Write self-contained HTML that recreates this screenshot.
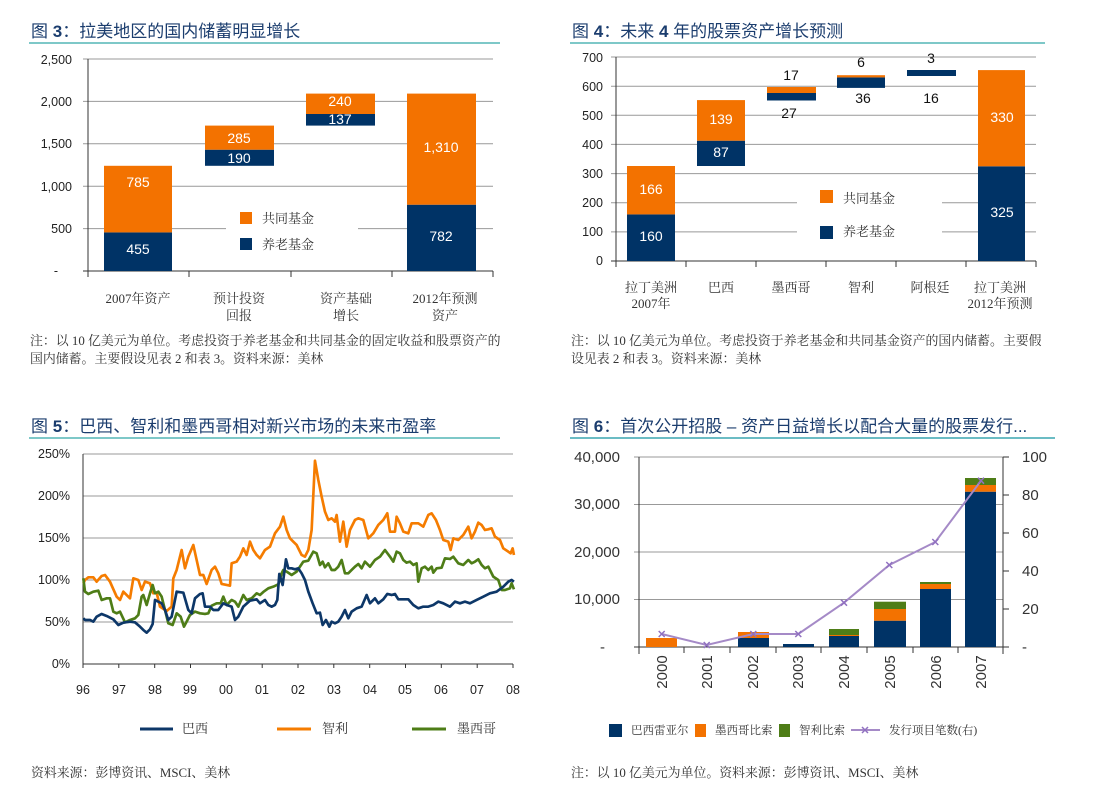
<!DOCTYPE html>
<html><head><meta charset="utf-8"><style>
html,body{margin:0;padding:0;background:#fff;}
svg text{font-family:"Liberation Sans","Noto Sans CJK SC",sans-serif;}
.t{font-size:17px;fill:#1b3d6e;}
.ax{font-size:12.5px;fill:#222;}
svg text.cat{font-family:"Liberation Serif","Noto Serif CJK SC",serif;font-size:13px;fill:#333;}
svg text.note{font-family:"Liberation Serif","Noto Serif CJK SC",serif;font-size:12.9px;fill:#333;}
svg text.lg6{font-family:"Liberation Serif","Noto Serif CJK SC",serif;font-size:11.5px;fill:#333;}
.wl{font-size:14px;fill:#fff;}
.bl{font-size:14px;fill:#111;}
</style></head><body>
<svg width="1101" height="796" viewBox="0 0 1101 796" xmlns="http://www.w3.org/2000/svg">
<!-- Panel 3 -->
<text x="31" y="37" class="t">图 <tspan font-weight="bold">3</tspan>：拉美地区的国内储蓄明显增长</text>
<line x1="29" y1="43" x2="500" y2="43" stroke="#7ec8c8" stroke-width="2"/>
<g stroke="#999" stroke-width="1">
<line x1="83" y1="59" x2="493" y2="59"/><line x1="83" y1="101.4" x2="493" y2="101.4"/>
<line x1="83" y1="143.8" x2="493" y2="143.8"/><line x1="83" y1="186.2" x2="493" y2="186.2"/>
<line x1="83" y1="228.6" x2="493" y2="228.6"/>
</g>
<line x1="88" y1="59" x2="88" y2="277" stroke="#333"/>
<line x1="83" y1="271" x2="493" y2="271" stroke="#333"/>
<g stroke="#333"><line x1="189" y1="271" x2="189" y2="277"/><line x1="291" y1="271" x2="291" y2="277"/><line x1="392" y1="271" x2="392" y2="277"/><line x1="493" y1="271" x2="493" y2="277"/></g>
<g class="ax" text-anchor="end">
<text x="72" y="64">2,500</text><text x="72" y="106">2,000</text><text x="72" y="148">1,500</text><text x="72" y="191">1,000</text><text x="72" y="233">500</text><text x="58" y="275">-</text>
</g>
<rect x="104" y="232.4" width="68" height="38.6" fill="#003366"/>
<rect x="104" y="165.8" width="68" height="66.6" fill="#f37200"/>
<rect x="205" y="149.7" width="69" height="16.1" fill="#003366"/>
<rect x="205" y="125.6" width="69" height="24.1" fill="#f37200"/>
<rect x="306" y="114" width="69" height="11.6" fill="#003366"/>
<rect x="306" y="93.6" width="69" height="20.4" fill="#f37200"/>
<rect x="407" y="204.7" width="69" height="66.3" fill="#003366"/>
<rect x="407" y="93.6" width="69" height="111.1" fill="#f37200"/>
<g class="wl" text-anchor="middle">
<text x="138" y="187">785</text><text x="138" y="254">455</text>
<text x="239" y="143">285</text><text x="239" y="163">190</text>
<text x="340" y="106">240</text><text x="340" y="124">137</text>
<text x="441" y="152">1,310</text><text x="441" y="241">782</text>
</g>
<rect x="226" y="205" width="132" height="50" fill="#fff"/>
<rect x="240" y="212" width="12" height="12" fill="#f37200"/>
<rect x="240" y="238" width="12" height="12" fill="#003366"/>
<text x="262" y="223" class="cat">共同基金</text><text x="262" y="249" class="cat">养老基金</text>
<g text-anchor="middle">
<text x="138" y="303" class="cat">2007年资产</text>
<text x="239" y="303" class="cat">预计投资</text><text x="239" y="320" class="cat">回报</text>
<text x="346" y="303" class="cat">资产基础</text><text x="346" y="320" class="cat">增长</text>
<text x="445" y="303" class="cat">2012年预测</text><text x="445" y="320" class="cat">资产</text>
</g>
<text x="30" y="345" class="note">注：以 10 亿美元为单位。考虑投资于养老基金和共同基金的固定收益和股票资产的</text>
<text x="30" y="363" class="note">国内储蓄。主要假设见表 2 和表 3。资料来源：美林</text>

<!-- Panel 4 -->
<text x="572" y="37" class="t">图 <tspan font-weight="bold">4</tspan>：未来 <tspan font-weight="bold">4</tspan> 年的股票资产增长预测</text>
<line x1="570" y1="43" x2="1045" y2="43" stroke="#7ec8c8" stroke-width="2"/>
<g stroke="#999">
<line x1="611" y1="57" x2="1036" y2="57"/><line x1="611" y1="86.2" x2="1036" y2="86.2"/><line x1="611" y1="115.3" x2="1036" y2="115.3"/>
<line x1="611" y1="144.4" x2="1036" y2="144.4"/><line x1="611" y1="173.6" x2="1036" y2="173.6"/><line x1="611" y1="202.7" x2="1036" y2="202.7"/><line x1="611" y1="231.9" x2="1036" y2="231.9"/>
</g>
<line x1="616" y1="57" x2="616" y2="267" stroke="#333"/>
<line x1="611" y1="261" x2="1036" y2="261" stroke="#333"/>
<g stroke="#333"><line x1="686" y1="261" x2="686" y2="267"/><line x1="756" y1="261" x2="756" y2="267"/><line x1="826" y1="261" x2="826" y2="267"/><line x1="896" y1="261" x2="896" y2="267"/><line x1="966" y1="261" x2="966" y2="267"/><line x1="1036" y1="261" x2="1036" y2="267"/></g>
<g class="ax" text-anchor="end">
<text x="603" y="62">700</text><text x="603" y="91">600</text><text x="603" y="120">500</text><text x="603" y="149">400</text><text x="603" y="178">300</text><text x="603" y="207">200</text><text x="603" y="236">100</text><text x="603" y="265">0</text>
</g>
<rect x="627" y="214.4" width="48" height="46.6" fill="#003366"/>
<rect x="627" y="166" width="48" height="48.4" fill="#f37200"/>
<rect x="697" y="140.7" width="48" height="25.3" fill="#003366"/>
<rect x="697" y="100.1" width="48" height="40.6" fill="#f37200"/>
<rect x="767" y="93" width="49" height="7.5" fill="#003366"/>
<rect x="767" y="87" width="49" height="6" fill="#f37200"/>
<rect x="837" y="77.4" width="48" height="10.5" fill="#003366"/>
<rect x="837" y="75.2" width="48" height="2.2" fill="#f37200"/>
<rect x="907" y="70" width="49" height="6" fill="#003366"/>
<rect x="978" y="166.3" width="47" height="94.7" fill="#003366"/>
<rect x="978" y="70.1" width="47" height="96.2" fill="#f37200"/>
<g class="wl" text-anchor="middle">
<text x="651" y="194">166</text><text x="651" y="241">160</text>
<text x="721" y="124">139</text><text x="721" y="157">87</text>
<text x="1002" y="122">330</text><text x="1002" y="217">325</text>
</g>
<g class="bl" text-anchor="middle">
<text x="791" y="80">17</text><text x="789" y="118">27</text>
<text x="861" y="67">6</text><text x="863" y="103">36</text>
<text x="931" y="63">3</text><text x="931" y="103">16</text>
</g>
<rect x="797" y="185" width="145" height="60" fill="#fff"/>
<rect x="820" y="190" width="13" height="13" fill="#f37200"/>
<rect x="820" y="226" width="13" height="13" fill="#003366"/>
<text x="843" y="203" class="cat">共同基金</text><text x="843" y="236" class="cat">养老基金</text>
<g text-anchor="middle">
<text x="651" y="292" class="cat">拉丁美洲</text><text x="651" y="308" class="cat">2007年</text>
<text x="721" y="292" class="cat">巴西</text><text x="791" y="292" class="cat">墨西哥</text><text x="861" y="292" class="cat">智利</text><text x="930" y="292" class="cat">阿根廷</text>
<text x="1000" y="292" class="cat">拉丁美洲</text><text x="1000" y="308" class="cat">2012年预测</text>
</g>
<text x="571" y="345" class="note">注：以 10 亿美元为单位。考虑投资于养老基金和共同基金资产的国内储蓄。主要假</text>
<text x="571" y="363" class="note">设见表 2 和表 3。资料来源：美林</text>

<!-- Panel 5 -->
<text x="31" y="432" class="t">图 <tspan font-weight="bold">5</tspan>：巴西、智利和墨西哥相对新兴市场的未来市盈率</text>
<line x1="29" y1="438" x2="500" y2="438" stroke="#7ec8c8" stroke-width="2"/>
<g stroke="#999">
<line x1="83" y1="454" x2="513" y2="454"/><line x1="83" y1="496" x2="513" y2="496"/><line x1="83" y1="538" x2="513" y2="538"/><line x1="83" y1="580" x2="513" y2="580"/><line x1="83" y1="622" x2="513" y2="622"/>
</g>
<line x1="83" y1="454" x2="83" y2="668" stroke="#333"/>
<line x1="83" y1="664" x2="513" y2="664" stroke="#333"/>
<g stroke="#333">
<line x1="118.8" y1="664" x2="118.8" y2="668"/><line x1="154.7" y1="664" x2="154.7" y2="668"/><line x1="190.5" y1="664" x2="190.5" y2="668"/><line x1="226.3" y1="664" x2="226.3" y2="668"/><line x1="262.2" y1="664" x2="262.2" y2="668"/><line x1="298" y1="664" x2="298" y2="668"/><line x1="333.8" y1="664" x2="333.8" y2="668"/><line x1="369.7" y1="664" x2="369.7" y2="668"/><line x1="405.5" y1="664" x2="405.5" y2="668"/><line x1="441.3" y1="664" x2="441.3" y2="668"/><line x1="477.2" y1="664" x2="477.2" y2="668"/><line x1="513" y1="664" x2="513" y2="668"/>
</g>
<g class="ax" text-anchor="end">
<text x="70" y="458">250%</text><text x="70" y="500">200%</text><text x="70" y="542">150%</text><text x="70" y="584">100%</text><text x="70" y="626">50%</text><text x="70" y="668">0%</text>
</g>
<g class="ax" text-anchor="middle">
<text x="83" y="694">96</text><text x="119" y="694">97</text><text x="155" y="694">98</text><text x="190" y="694">99</text><text x="226" y="694">00</text><text x="262" y="694">01</text><text x="298" y="694">02</text><text x="334" y="694">03</text><text x="370" y="694">04</text><text x="405" y="694">05</text><text x="441" y="694">06</text><text x="477" y="694">07</text><text x="513" y="694">08</text>
</g>
<g transform="translate(30,440) scale(0.3333)" fill="none" stroke-width="8" stroke-linejoin="round">
<polyline stroke="#f57c00" points="160,430 165,420 175,412 190,412 200,425 215,408 225,405 240,425 260,470 270,480 280,455 295,470 300,475 310,415 325,420 335,450 345,425 360,430 370,460 380,458 390,500 410,513 425,500 430,415 440,390 455,330 465,385 475,350 490,315 500,360 510,405 520,405 530,432 545,390 555,380 565,400 575,432 590,435 600,437 605,370 620,365 630,350 640,325 650,345 660,305 670,330 680,345 690,355 705,330 720,320 735,280 750,260 760,230 770,270 780,295 790,305 800,315 815,345 825,350 835,330 845,270 855,62 865,120 875,170 885,215 895,240 905,235 915,245 920,225 930,305 940,245 950,320 960,270 975,240 985,235 1000,240 1015,295 1030,280 1045,255 1060,240 1072,220 1080,275 1095,275 1100,230 1110,250 1120,275 1135,280 1145,250 1165,250 1180,260 1195,225 1205,220 1218,240 1230,270 1240,300 1255,305 1262,330 1270,295 1285,300 1300,285 1315,260 1325,295 1335,275 1345,248 1355,255 1365,270 1375,268 1385,265 1395,290 1410,300 1420,325 1435,335 1442,340 1448,325 1452,345"/>
<polyline stroke="#4e7d17" points="160,415 165,455 175,462 190,455 205,452 215,480 230,475 240,475 250,515 260,520 270,515 285,547 300,540 315,535 325,525 335,470 340,465 350,495 360,460 368,435 375,460 385,455 395,470 405,510 415,550 428,555 440,520 452,530 462,560 470,545 480,525 495,515 510,520 525,522 535,520 545,497 560,490 572,490 580,470 590,495 605,480 615,485 625,500 640,465 650,480 665,475 680,460 690,465 700,456 715,445 730,440 745,433 755,400 760,390 770,395 785,405 800,395 810,380 820,365 835,362 850,335 860,340 870,375 878,365 885,382 895,370 905,390 915,390 925,380 935,360 945,400 955,400 965,390 975,380 985,372 995,385 1005,365 1020,380 1035,360 1050,350 1065,330 1080,350 1090,365 1100,335 1110,340 1120,360 1130,368 1140,365 1150,375 1160,370 1165,425 1175,385 1185,380 1195,390 1205,380 1210,398 1220,385 1235,383 1245,355 1260,357 1270,350 1285,370 1300,375 1315,360 1325,370 1335,365 1345,358 1355,375 1365,385 1375,380 1390,410 1405,420 1415,450 1425,450 1440,445 1445,430 1452,448"/>
<polyline stroke="#0d3768" points="160,535 165,540 180,540 190,545 200,530 215,522 230,528 250,538 265,555 280,548 300,545 315,547 330,560 340,570 350,578 360,568 368,552 375,480 385,485 395,490 405,510 415,540 425,530 440,455 460,458 475,510 485,520 495,475 510,462 518,460 525,500 540,500 550,510 565,510 580,490 590,495 605,500 615,540 625,530 640,500 660,482 680,478 690,490 705,480 715,495 725,500 735,495 742,480 748,402 758,435 768,358 775,385 785,385 795,388 805,385 815,400 825,420 835,455 848,490 860,520 870,518 878,555 888,540 898,560 905,545 915,550 925,545 935,530 945,510 955,535 965,515 980,505 995,500 1010,465 1020,490 1035,475 1045,490 1060,478 1072,462 1085,465 1095,462 1105,478 1120,478 1135,478 1150,495 1165,505 1180,500 1195,500 1210,495 1225,485 1240,490 1260,500 1275,485 1290,490 1305,485 1320,490 1340,480 1360,470 1380,460 1400,455 1420,440 1435,425 1445,420 1452,425"/>
</g>
<line x1="140" y1="729" x2="173" y2="729" stroke="#0d3768" stroke-width="3"/>
<text x="182" y="733" class="cat">巴西</text>
<line x1="277" y1="729" x2="311" y2="729" stroke="#f57c00" stroke-width="3"/>
<text x="322" y="733" class="cat">智利</text>
<line x1="412" y1="729" x2="446" y2="729" stroke="#4e7d17" stroke-width="3"/>
<text x="457" y="733" class="cat">墨西哥</text>
<text x="31" y="777" class="note">资料来源：彭博资讯、MSCI、美林</text>

<!-- Panel 6 -->
<text x="572" y="432" class="t">图 <tspan font-weight="bold">6</tspan>：首次公开招股 – 资产日益增长以配合大量的股票发行...</text>
<line x1="570" y1="438" x2="1055" y2="438" stroke="#3aa6b0" stroke-width="1.5"/>
<g stroke="#999">
<line x1="634" y1="457" x2="1003" y2="457"/><line x1="634" y1="504.5" x2="1003" y2="504.5"/><line x1="634" y1="552" x2="1003" y2="552"/><line x1="634" y1="599.5" x2="1003" y2="599.5"/>
</g>
<line x1="639" y1="457" x2="639" y2="654" stroke="#333"/>
<line x1="1003" y1="457" x2="1003" y2="654" stroke="#333"/>
<line x1="634" y1="647" x2="1009" y2="647" stroke="#333"/>
<g stroke="#333">
<line x1="684" y1="647" x2="684" y2="653"/><line x1="730" y1="647" x2="730" y2="653"/><line x1="776" y1="647" x2="776" y2="653"/><line x1="821" y1="647" x2="821" y2="653"/><line x1="867" y1="647" x2="867" y2="653"/><line x1="913" y1="647" x2="913" y2="653"/><line x1="958" y1="647" x2="958" y2="653"/>
<line x1="1003" y1="457" x2="1009" y2="457"/><line x1="1003" y1="495" x2="1009" y2="495"/><line x1="1003" y1="533" x2="1009" y2="533"/><line x1="1003" y1="571" x2="1009" y2="571"/><line x1="1003" y1="609" x2="1009" y2="609"/>
</g>
<g font-size="15" fill="#333" text-anchor="end">
<text x="620" y="462">40,000</text><text x="620" y="509">30,000</text><text x="620" y="557">20,000</text><text x="620" y="604">10,000</text><text x="605" y="652">-</text>
</g>
<g font-size="15" fill="#333">
<text x="1022" y="462">100</text><text x="1022" y="500">80</text><text x="1022" y="538">60</text><text x="1022" y="576">40</text><text x="1022" y="614">20</text><text x="1022" y="652">-</text>
</g>
<rect x="646" y="638" width="31" height="9" fill="#f37200"/>
<rect x="738" y="638" width="31" height="9" fill="#003366"/>
<rect x="738" y="632" width="31" height="6" fill="#f37200"/>
<rect x="783" y="644" width="31" height="3" fill="#003366"/>
<rect x="829" y="636" width="30" height="11" fill="#003366"/>
<rect x="829" y="635" width="30" height="1" fill="#f37200"/>
<rect x="829" y="629" width="30" height="6" fill="#4e7d17"/>
<rect x="874" y="620.7" width="32" height="26.3" fill="#003366"/>
<rect x="874" y="609" width="32" height="11.7" fill="#f37200"/>
<rect x="874" y="601.7" width="32" height="7.3" fill="#4e7d17"/>
<rect x="920" y="589" width="31" height="58" fill="#003366"/>
<rect x="920" y="584" width="31" height="5" fill="#f37200"/>
<rect x="920" y="582" width="31" height="2" fill="#4e7d17"/>
<rect x="965" y="491.7" width="31" height="155.3" fill="#003366"/>
<rect x="965" y="485" width="31" height="6.7" fill="#f37200"/>
<rect x="965" y="478" width="31" height="7" fill="#4e7d17"/>
<polyline fill="none" stroke="#a58ac7" stroke-width="2" points="661.7,634 706.7,645 753.3,634 798.3,634 844,602.7 889.3,565 935.3,542 981,480.7"/>
<g stroke="#9070c0" stroke-width="1.5">
<path d="M658.7,631l6,6m0,-6l-6,6M703.7,642l6,6m0,-6l-6,6M750.3,631l6,6m0,-6l-6,6M795.3,631l6,6m0,-6l-6,6M841,599.7l6,6m0,-6l-6,6M886.3,562l6,6m0,-6l-6,6M932.3,539l6,6m0,-6l-6,6M978,477.7l6,6m0,-6l-6,6"/>
</g>
<g font-size="15" fill="#333" text-anchor="middle">
<text transform="translate(667,672) rotate(-90)">2000</text>
<text transform="translate(712,672) rotate(-90)">2001</text>
<text transform="translate(758,672) rotate(-90)">2002</text>
<text transform="translate(803,672) rotate(-90)">2003</text>
<text transform="translate(849,672) rotate(-90)">2004</text>
<text transform="translate(895,672) rotate(-90)">2005</text>
<text transform="translate(941,672) rotate(-90)">2006</text>
<text transform="translate(986,672) rotate(-90)">2007</text>
</g>
<rect x="609" y="724" width="13" height="13" fill="#003366"/>
<text x="631" y="734" class="lg6">巴西雷亚尔</text>
<rect x="695" y="724" width="11" height="13" fill="#f37200"/>
<text x="715" y="734" class="lg6">墨西哥比索</text>
<rect x="779" y="724" width="11" height="13" fill="#4e7d17"/>
<text x="799" y="734" class="lg6">智利比索</text>
<line x1="851" y1="730" x2="880" y2="730" stroke="#a58ac7" stroke-width="2"/>
<path d="M862,727l6,6m0,-6l-6,6" stroke="#9070c0" stroke-width="1.5"/>
<text x="889" y="734" class="lg6">发行项目笔数(右)</text>
<text x="571" y="777" class="note">注：以 10 亿美元为单位。资料来源：彭博资讯、MSCI、美林</text>
</svg>
</body></html>
